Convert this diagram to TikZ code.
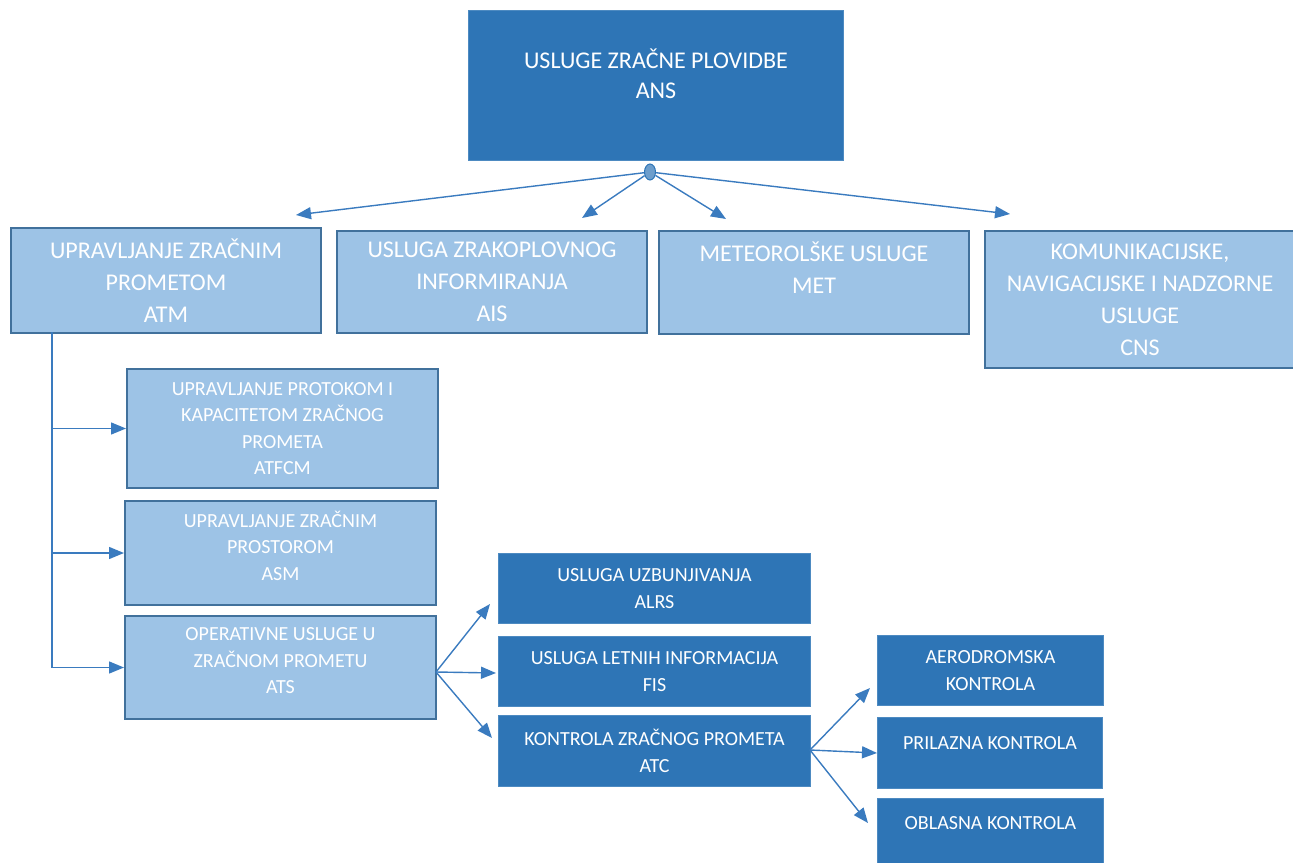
\documentclass[tikz,border=0pt]{standalone}
\usepackage{fontspec}
\setmainfont{Carlito}
\usetikzlibrary{arrows.meta,shapes.geometric}
\definecolor{ansdark}{HTML}{2E75B6}
\definecolor{anslight}{HTML}{9DC3E6}
\definecolor{ansedge}{HTML}{41719C}
\definecolor{ansarrow}{HTML}{3A7BBF}
\tikzset{
  darkbox/.style={draw=ansdark!85!white, fill=ansdark, text=white, anchor=north west,
    align=center, inner sep=0pt, line width=1pt, font=\fontsize{20}{27}\selectfont},
  lightbox/.style={draw=ansedge, fill=anslight, text=white, anchor=north west,
    align=center, inner sep=0pt, line width=2pt, font=\fontsize{20}{26.5}\selectfont},
  bigtext/.style={font=\fontsize{24}{32}\selectfont},
  lift/.style={text depth=#1pt},
  link/.style={draw=ansarrow, line width=1.4pt, -{Triangle[length=15pt,width=12pt]}},
}
\begin{document}
\begin{tikzpicture}[x=1pt,y=-1pt]
\useasboundingbox (0,0) rectangle (1293,862);
% top
\node[darkbox, font=\fontsize{24}{30}\selectfont, minimum width=375pt, minimum height=150pt, lift=24] (ans) at (468,10) {USLUGE ZRAČNE PLOVIDBE\\ANS};
\node[ellipse, draw=ansdark, fill=ansdark!70!white, line width=1pt, minimum width=11pt, minimum height=16pt, inner sep=0pt] (hub) at (650,172) {};
% first row
\node[lightbox, bigtext, minimum width=310pt, minimum height=105pt] (atm) at (10,227) {UPRAVLJANJE ZRAČNIM\\PROMETOM\\ATM};
\node[lightbox, bigtext, minimum width=310pt, minimum height=102pt] (ais) at (336,230) {USLUGA ZRAKOPLOVNOG\\INFORMIRANJA\\AIS};
\node[lightbox, bigtext, minimum width=310pt, minimum height=103pt, lift=30] (met) at (658,230) {METEOROLŠKE USLUGE\\MET};
\node[lightbox, bigtext, minimum width=310pt, minimum height=137pt] (cns) at (984,230) {KOMUNIKACIJSKE,\\NAVIGACIJSKE I NADZORNE\\USLUGE\\CNS};
% ATM branch
\node[lightbox, minimum width=311pt, minimum height=119pt] (atfcm) at (126,368) {UPRAVLJANJE PROTOKOM I\\KAPACITETOM ZRAČNOG\\PROMETA\\ATFCM};
\node[lightbox, minimum width=311pt, minimum height=104pt, lift=15] (asm) at (124,500) {UPRAVLJANJE ZRAČNIM\\PROSTOROM\\ASM};
\node[lightbox, minimum width=311pt, minimum height=103pt, lift=13] (ats) at (124,615) {OPERATIVNE USLUGE U\\ZRAČNOM PROMETU\\ATS};
% ATS branch
\node[darkbox, minimum width=312pt, minimum height=70pt] (alrs) at (498,553) {USLUGA UZBUNJIVANJA\\ALRS};
\node[darkbox, minimum width=312pt, minimum height=70pt] (fis) at (498,636) {USLUGA LETNIH INFORMACIJA\\FIS};
\node[darkbox, minimum width=312pt, minimum height=71pt] (atc) at (498,715) {KONTROLA ZRAČNOG PROMETA\\ATC};
% ATC branch
\node[darkbox, minimum width=226pt, minimum height=70pt] (aero) at (877,635) {AERODROMSKA\\KONTROLA};
\node[darkbox, minimum width=225pt, minimum height=71pt, lift=20] (pril) at (877,717) {PRILAZNA KONTROLA};
\node[darkbox, minimum width=226pt, minimum height=70pt, lift=20] (obl) at (877,798) {OBLASNA KONTROLA};
% arrow ends
\coordinate (atmtip) at (296,215);
\coordinate (aistip) at (582,218);
\coordinate (mettip) at (726,219);
\coordinate (cnstip) at (1010,214);
\coordinate (trunk) at (52,332);
\coordinate (atsfan) at (436,672);
\coordinate (alrstip) at (490,604);
\coordinate (fistip) at (496,673);
\coordinate (atctip) at (492,738);
\coordinate (atcfan) at (810,750);
\coordinate (aerotip) at (870,688);
\coordinate (obltip) at (868,823);
% connectors
\draw[link] (hub) -- (atmtip);
\draw[link] (hub) -- (aistip);
\draw[link] (hub) -- (mettip);
\draw[link] (hub) -- (cnstip);
\draw[link] (trunk) |- (ats.west);
\draw[link] (trunk |- atfcm.west) -- (atfcm.west);
\draw[link] (trunk |- asm.west) -- (asm.west);
\draw[link] (atsfan) -- (alrstip);
\draw[link] (atsfan) -- (fistip);
\draw[link] (atsfan) -- (atctip);
\draw[link] (atcfan) -- (aerotip);
\draw[link] (atcfan) -- (pril.west);
\draw[link] (atcfan) -- (obltip);
\end{tikzpicture}
\end{document}
